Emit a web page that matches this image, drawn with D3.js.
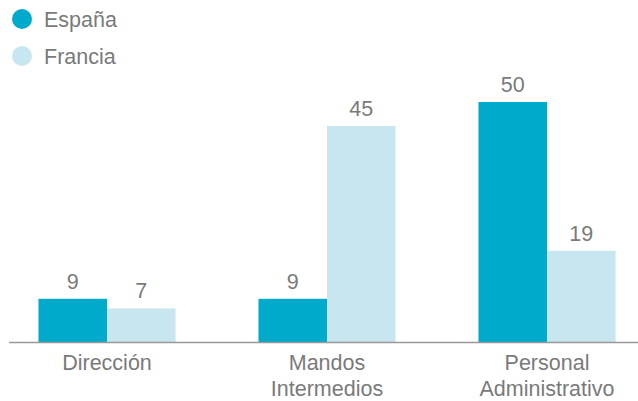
<!DOCTYPE html>
<html><head><meta charset="utf-8">
<script src="https://cdn.jsdelivr.net/npm/d3@7"></script>
<style>body{margin:0;background:#fff}svg{display:block}</style>
</head><body>
<svg id="chart" width="638" height="401"></svg>
<script>
const categories = [["Dirección"], ["Mandos", "Intermedios"], ["Personal", "Administrativo"]];
const seriesNames = ["España", "Francia"];
const espana = [9, 9, 50];
const francia = [7, 45, 19];
const colors = ["#00aacb", "#c8e6f0"];

const svg = d3.select("#chart");
const font = "'Liberation Sans', Arial, sans-serif";
const textColor = "#7a7a7a";
const fs = 21.5;
const baseY = 342;

const x = d3.scaleBand().domain(d3.range(categories.length)).range([-3, 657]).paddingInner(0.377).paddingOuter(0.1885);
const xs = d3.scaleBand().domain(d3.range(seriesNames.length)).range([0, x.bandwidth()]);
const y = d3.scaleLinear().domain([0, 50]).range([baseY, 102]);

const series = [espana, francia];
const g = svg.append("g");
series.forEach((vals, si) => {
  g.selectAll(".b" + si).data(vals).enter().append("rect")
    .attr("x", (d, i) => x(i) + xs(si))
    .attr("width", xs.bandwidth())
    .attr("y", d => y(d))
    .attr("height", d => baseY - y(d))
    .attr("fill", colors[si]);
  g.selectAll(".t" + si).data(vals).enter().append("text")
    .attr("x", (d, i) => x(i) + xs(si) + xs.bandwidth() / 2)
    .attr("y", d => y(d) - 10)
    .attr("text-anchor", "middle")
    .attr("font-family", font).attr("font-size", fs).attr("fill", textColor)
    .text(d => d);
});

svg.append("line").attr("x1", 9).attr("x2", 638).attr("y1", baseY + 0.5).attr("y2", baseY + 0.5)
  .attr("stroke", "#999").attr("stroke-width", 1.5);

categories.forEach((lines, i) => {
  const t = svg.append("text").attr("text-anchor", "middle")
    .attr("font-family", font).attr("font-size", fs).attr("fill", textColor);
  lines.forEach((l, j) => {
    t.append("tspan").attr("x", x(i) + x.bandwidth() / 2).attr("y", 370 + j * 26).text(l);
  });
});

const leg = svg.append("g");
seriesNames.forEach((n, i) => {
  leg.append("circle").attr("cx", 22).attr("cy", 19 + i * 37).attr("r", 10).attr("fill", colors[i]);
  leg.append("text").attr("x", 44).attr("y", 26.5 + i * 37)
    .attr("font-family", font).attr("font-size", fs).attr("fill", textColor).text(n);
});
</script>
</body></html>
